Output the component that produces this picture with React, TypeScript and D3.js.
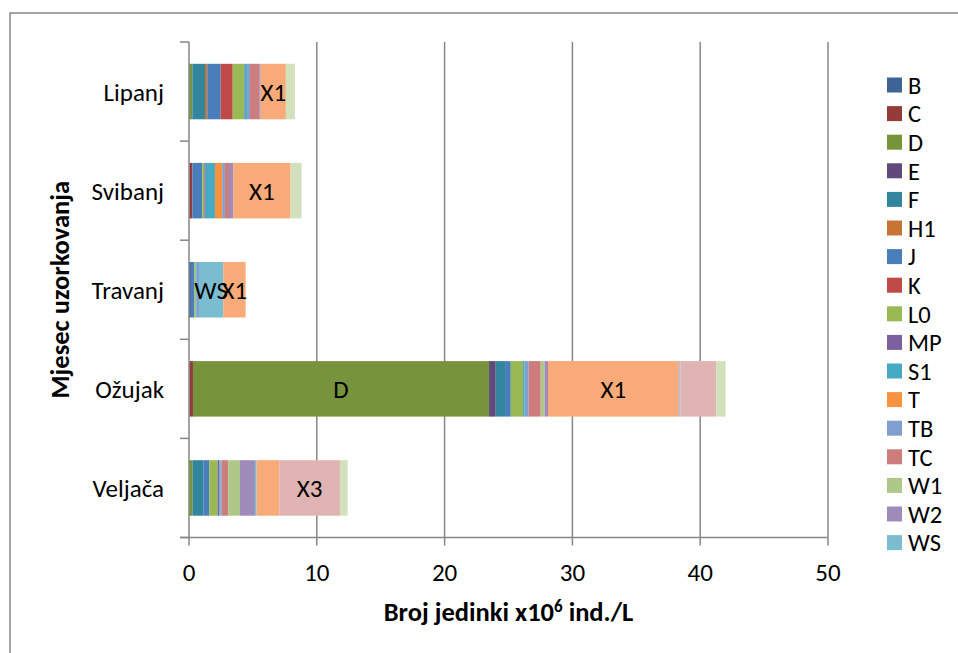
import { useEffect, useRef } from "react";
import * as d3 from "d3";

// categories, top to bottom
const months = ["Lipanj", "Svibanj", "Travanj", "Ožujak", "Veljača"];

// series in stacking order (legend only shows the first 17, like the original)
const seriesNames = [
  "B", "C", "D", "E", "F", "H1", "J", "K", "L0", "MP", "S1",
  "T", "TB", "TC", "W1", "W2", "WS", "X1", "X2", "X3", "Z",
];
const seriesColors = [
  "#3E6496", "#953B39", "#77933C", "#604A7B", "#31859C", "#C77535", "#4A7EBB",
  "#BE4B48", "#98B954", "#7D60A0", "#46AAC5", "#F69240", "#809ECF", "#CD7D7B",
  "#AFC889", "#9F8BBA", "#7BBDD0", "#F8AA78", "#A9BFE0", "#DFB4B3", "#D3E0BC",
];
const legendCount = 17;

// values x10^6 ind./L, same order as seriesNames
const lipanj = [0.06, 0, 0.2, 0, 0.99, 0.18, 1.05, 0.94, 0.88, 0.05, 0.18, 0, 0.24, 0.73, 0, 0.11, 0, 1.97, 0, 0, 0.71];
const svibanj = [0.04, 0.22, 0, 0, 0, 0, 0.78, 0, 0.16, 0.11, 0.72, 0.57, 0.21, 0.32, 0, 0.33, 0, 4.49, 0, 0, 0.86];
const travanj = [0.15, 0, 0, 0, 0, 0, 0.26, 0, 0.11, 0, 0.08, 0, 0.18, 0, 0, 0, 1.9, 1.75, 0, 0, 0];
const ozujak = [0.05, 0.26, 23.17, 0.52, 0.73, 0, 0.45, 0, 0.96, 0, 0.13, 0, 0.31, 0.94, 0.31, 0.26, 0, 10.24, 0.11, 2.82, 0.73];
const veljaca = [0, 0, 0.29, 0, 0.83, 0, 0.47, 0, 0.65, 0.13, 0.1, 0, 0.09, 0.51, 0.92, 1.17, 0.13, 1.77, 0, 4.75, 0.6];

const xTicks = [0, 10, 20, 30, 40, 50];

// segments that carry a series-name label
const labelled = [
  ["Lipanj", "X1"],
  ["Svibanj", "X1"],
  ["Travanj", "WS"],
  ["Travanj", "X1"],
  ["Ožujak", "D"],
  ["Ožujak", "X1"],
  ["Veljača", "X3"],
];

const FONT = "Carlito, Calibri, Lato, sans-serif";

export default function App() {
  const ref = useRef<SVGSVGElement | null>(null);

  useEffect(() => {
    if (!ref.current) return;
    const svg = d3.select(ref.current);
    svg.selectAll("*").remove();

    const W = 958;
    const H = 653;
    const left = 189;
    const right = 828;
    const top = 42;
    const bottom = 537.5;

    svg.attr("width", W).attr("height", H).style("font-family", FONT);

    // outer chart border (right/bottom run off the picture)
    svg
      .append("rect")
      .attr("x", 10)
      .attr("y", 13)
      .attr("width", 980)
      .attr("height", 700)
      .attr("fill", "#fff")
      .attr("stroke", "#868686")
      .attr("stroke-width", 1.5);

    const rows = [lipanj, svibanj, travanj, ozujak, veljaca];
    const table = months.map((m, i) => {
      const row: Record<string, any> = { month: m };
      seriesNames.forEach((s, j) => (row[s] = rows[i][j]));
      return row;
    });

    const stack = d3.stack<Record<string, any>>().keys(seriesNames);
    const layers = stack(table);

    const x = d3.scaleLinear().domain([0, 50]).range([left, right]);
    const y = d3
      .scaleBand<string>()
      .domain(months)
      .range([top, bottom])
      .paddingInner(0.44)
      .paddingOuter(0.22);
    const step = y.step();

    // vertical gridlines
    svg
      .append("g")
      .selectAll("line")
      .data(xTicks.slice(1))
      .join("line")
      .attr("x1", (d) => x(d))
      .attr("x2", (d) => x(d))
      .attr("y1", top)
      .attr("y2", bottom)
      .attr("stroke", "#868686")
      .attr("stroke-width", 1.5);

    // bars
    layers.forEach((layer, i) => {
      svg
        .append("g")
        .attr("fill", seriesColors[i])
        .selectAll("rect")
        .data(layer)
        .join("rect")
        .attr("x", (d) => x(d[0]))
        .attr("y", (d) => y(d.data.month) as number)
        .attr("width", (d) => Math.max(0, x(d[1]) - x(d[0])))
        .attr("height", y.bandwidth());
    });

    // segment labels
    labelled.forEach(([m, s]) => {
      const layer = layers[seriesNames.indexOf(s)];
      const d = layer[months.indexOf(m)];
      svg
        .append("text")
        .attr("x", (x(d[0]) + x(d[1])) / 2)
        .attr("y", (y(m) as number) + y.bandwidth() / 2)
        .attr("dy", "0.36em")
        .attr("text-anchor", "middle")
        .attr("font-size", 25)
        .attr("fill", "#000")
        .text(s);
    });

    // y axis with outward ticks at category boundaries
    const yAxis = svg.append("g").attr("stroke", "#868686").attr("stroke-width", 1.5);
    yAxis.append("line").attr("x1", left).attr("x2", left).attr("y1", top).attr("y2", bottom);
    d3.range(months.length + 1).forEach((i) => {
      const yy = top + i * step;
      yAxis.append("line").attr("x1", left - 9).attr("x2", left).attr("y1", yy).attr("y2", yy);
    });
    svg
      .append("g")
      .selectAll("text")
      .data(months)
      .join("text")
      .attr("x", 164)
      .attr("y", (d) => (y(d) as number) + y.bandwidth() / 2)
      .attr("dy", "0.36em")
      .attr("text-anchor", "end")
      .attr("font-size", 25)
      .text((d) => d);

    // x axis
    const xAxis = svg.append("g").attr("stroke", "#868686").attr("stroke-width", 1.5);
    xAxis.append("line").attr("x1", left - 9).attr("x2", right).attr("y1", bottom).attr("y2", bottom);
    xTicks.forEach((t) => {
      xAxis.append("line").attr("x1", x(t)).attr("x2", x(t)).attr("y1", bottom).attr("y2", bottom + 8);
    });
    svg
      .append("g")
      .selectAll("text")
      .data(xTicks)
      .join("text")
      .attr("x", (d) => x(d))
      .attr("y", 581)
      .attr("text-anchor", "middle")
      .attr("font-size", 25)
      .text((d) => d);

    // axis titles
    const xt = svg
      .append("text")
      .attr("x", (left + right) / 2)
      .attr("y", 621)
      .attr("text-anchor", "middle")
      .attr("font-size", 26.5)
      .attr("font-weight", "bold");
    xt.append("tspan").text("Broj jedinki x10");
    xt.append("tspan").attr("font-size", 17).attr("dy", -9).text("6");
    xt.append("tspan").attr("dy", 9).text(" ind./L");

    svg
      .append("text")
      .attr("transform", `translate(69, ${(top + bottom) / 2}) rotate(-90)`)
      .attr("text-anchor", "middle")
      .attr("font-size", 26.5)
      .attr("font-weight", "bold")
      .text("Mjesec uzorkovanja");

    // legend
    const legend = svg.append("g").attr("transform", "translate(887, 85)");
    seriesNames.slice(0, legendCount).forEach((s, i) => {
      const item = legend.append("g").attr("transform", `translate(0, ${i * 28.6})`);
      item
        .append("rect")
        .attr("x", 0)
        .attr("y", -7.5)
        .attr("width", 15)
        .attr("height", 15)
        .attr("fill", seriesColors[i]);
      item
        .append("text")
        .attr("x", 21)
        .attr("y", 0)
        .attr("dy", "0.36em")
        .attr("font-size", 24.5)
        .text(s);
    });
  }, []);

  return (
    <svg
      ref={ref}
      style={{ position: "absolute", left: 0, top: 0, display: "block" }}
    ></svg>
  );
}
